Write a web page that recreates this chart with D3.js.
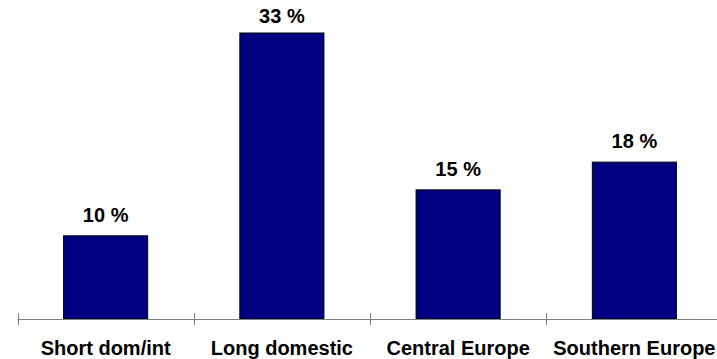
<!DOCTYPE html>
<html>
<head>
<meta charset="utf-8">
<script src="https://cdn.jsdelivr.net/npm/d3@7/dist/d3.min.js"></script>
<style>
  html, body { margin: 0; padding: 0; background: #fff; }
  svg { display: block; }
  text { font-family: Arial, "Liberation Sans", sans-serif; font-weight: bold; }
</style>
</head>
<body>
<svg id="chart" width="717" height="359"></svg>
<script>
const categories = ["Short dom/int", "Long domestic", "Central Europe", "Southern Europe"];
const values = [9.6, 33, 14.9, 18.1];
const valueLabels = ["10 %", "33 %", "15 %", "18 %"];

const W = 717, H = 359;
const baseY = 319;
const svg = d3.select("#chart");

const x = d3.scaleBand().domain(categories).range([17.5, 722.5]).padding(0);
const y = d3.scaleLinear().domain([0, 33]).range([baseY, 33]);
const barW = x.bandwidth() * 0.477;

// bars
svg.append("g").selectAll("rect")
  .data(categories)
  .join("rect")
  .attr("x", (d) => x(d) + x.bandwidth() / 2 - barW / 2)
  .attr("y", (d, i) => y(values[i]))
  .attr("width", barW)
  .attr("height", (d, i) => baseY - y(values[i]))
  .attr("fill", "#000080")
  .attr("stroke", "#000")
  .attr("stroke-width", 1);

// value labels
svg.append("g").selectAll("text")
  .data(categories)
  .join("text")
  .attr("x", (d) => x(d) + x.bandwidth() / 2)
  .attr("y", (d, i) => Math.max(y(values[i]) - 14, 23))
  .attr("text-anchor", "middle")
  .attr("font-size", 20)
  .attr("fill", "#000")
  .text((d, i) => valueLabels[i]);

// axis
const axis = d3.axisBottom(x).tickSize(0).tickPadding(0);
const gAxis = svg.append("g").attr("transform", `translate(0,${baseY})`).call(axis);
gAxis.select(".domain").remove();
gAxis.selectAll("text")
  .attr("y", 36)
  .attr("dy", 0)
  .attr("font-size", 20)
  .attr("fill", "#000")
  .style("font-family", "Arial, 'Liberation Sans', sans-serif")
  .style("font-weight", "bold");

svg.append("line")
  .attr("x1", x.range()[0]).attr("x2", W)
  .attr("y1", baseY + 0.5).attr("y2", baseY + 0.5)
  .attr("stroke", "#808080").attr("stroke-width", 1);

svg.append("g").selectAll("line")
  .data(categories)
  .join("line")
  .attr("x1", (d) => Math.round(x(d)) + 0.5)
  .attr("x2", (d) => Math.round(x(d)) + 0.5)
  .attr("y1", baseY - 6)
  .attr("y2", baseY + 6)
  .attr("stroke", "#808080")
  .attr("stroke-width", 1);
</script>
</body>
</html>
